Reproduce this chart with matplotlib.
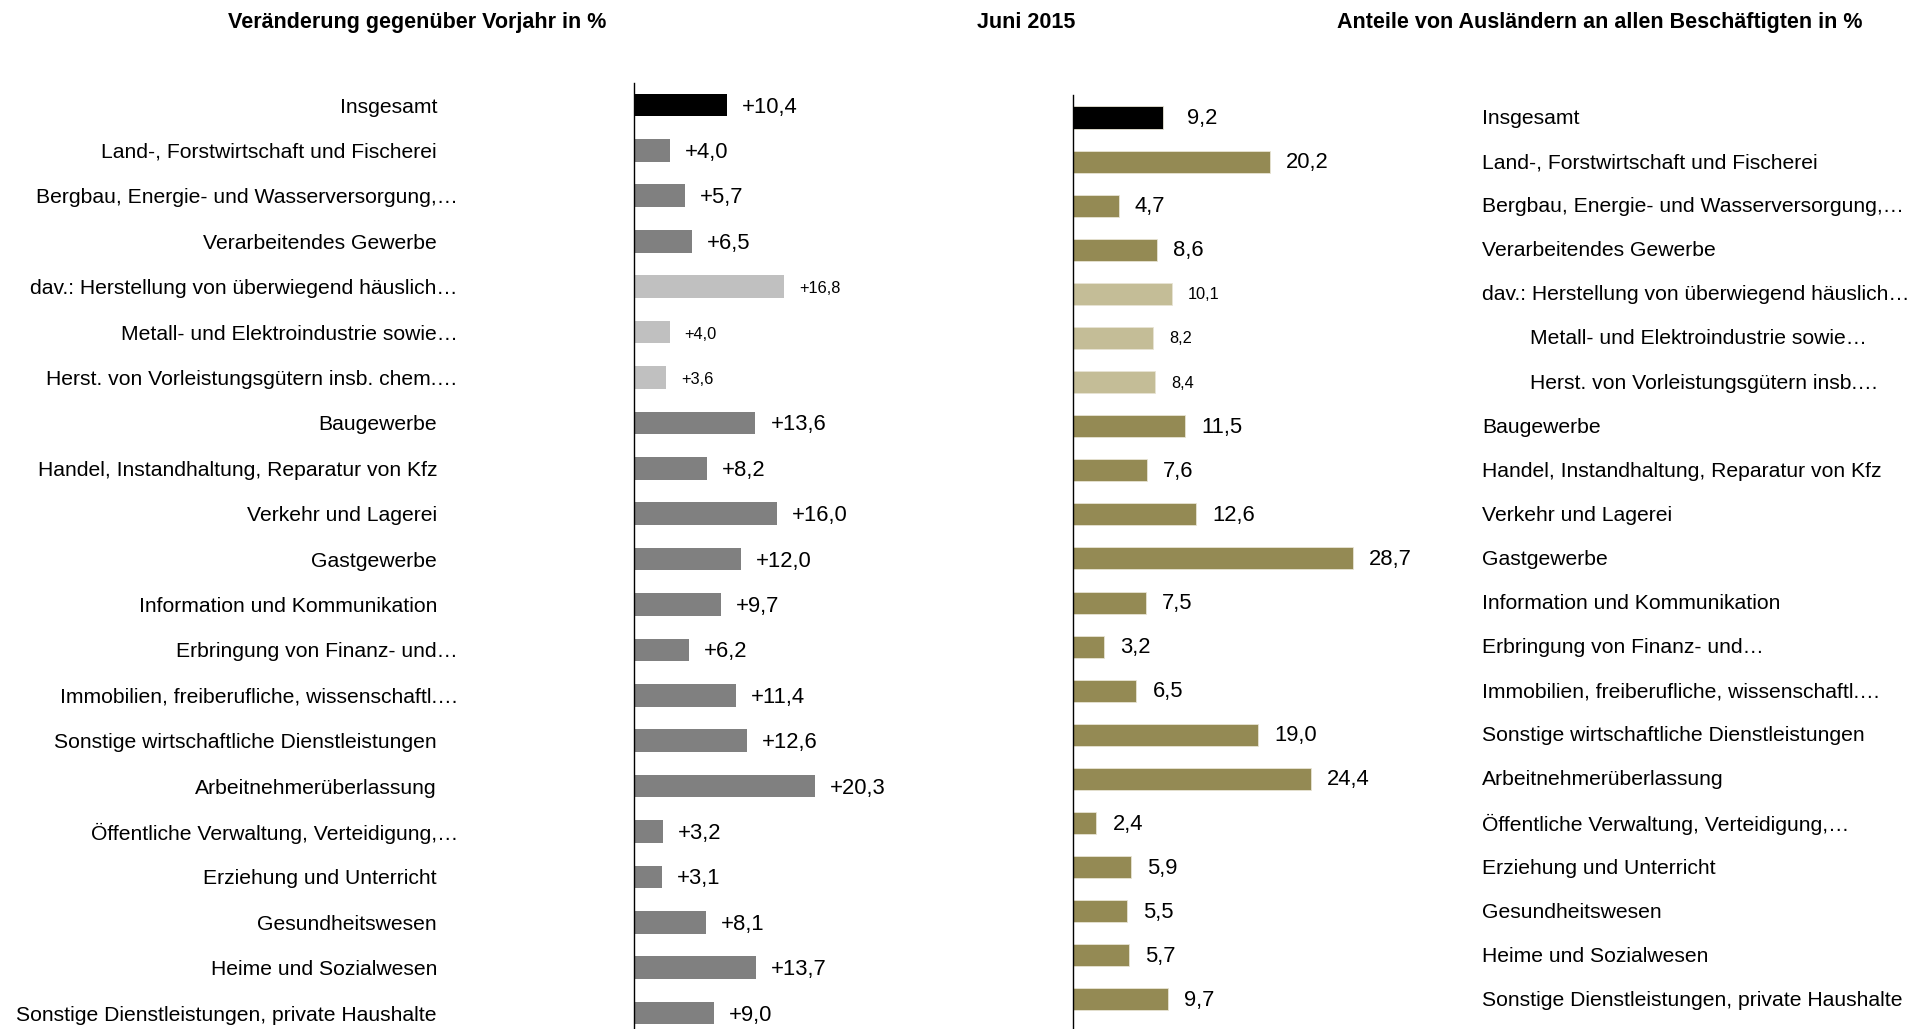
import matplotlib
matplotlib.use("Agg")
import matplotlib.pyplot as plt

plt.rcParams['font.family'] = ['Liberation Sans', 'DejaVu Sans']

left_labels = [
    "Insgesamt",
    "Land-, Forstwirtschaft und Fischerei",
    "Bergbau, Energie- und Wasserversorgung,…",
    "Verarbeitendes Gewerbe",
    "dav.: Herstellung von überwiegend häuslich…",
    "Metall- und Elektroindustrie sowie…",
    "Herst. von Vorleistungsgütern insb. chem.…",
    "Baugewerbe",
    "Handel, Instandhaltung, Reparatur von Kfz",
    "Verkehr und Lagerei",
    "Gastgewerbe",
    "Information und Kommunikation",
    "Erbringung von Finanz- und…",
    "Immobilien, freiberufliche, wissenschaftl.…",
    "Sonstige wirtschaftliche Dienstleistungen",
    "Arbeitnehmerüberlassung",
    "Öffentliche Verwaltung, Verteidigung,…",
    "Erziehung und Unterricht",
    "Gesundheitswesen",
    "Heime und Sozialwesen",
    "Sonstige Dienstleistungen, private Haushalte",
]
right_labels = [
    "Insgesamt",
    "Land-, Forstwirtschaft und Fischerei",
    "Bergbau, Energie- und Wasserversorgung,…",
    "Verarbeitendes Gewerbe",
    "dav.: Herstellung von überwiegend häuslich…",
    "Metall- und Elektroindustrie sowie…",
    "Herst. von Vorleistungsgütern insb.…",
    "Baugewerbe",
    "Handel, Instandhaltung, Reparatur von Kfz",
    "Verkehr und Lagerei",
    "Gastgewerbe",
    "Information und Kommunikation",
    "Erbringung von Finanz- und…",
    "Immobilien, freiberufliche, wissenschaftl.…",
    "Sonstige wirtschaftliche Dienstleistungen",
    "Arbeitnehmerüberlassung",
    "Öffentliche Verwaltung, Verteidigung,…",
    "Erziehung und Unterricht",
    "Gesundheitswesen",
    "Heime und Sozialwesen",
    "Sonstige Dienstleistungen, private Haushalte",
]
change_pct = [10.4, 4.0, 5.7, 6.5, 16.8, 4.0, 3.6, 13.6, 8.2, 16.0, 12.0, 9.7,
              6.2, 11.4, 12.6, 20.3, 3.2, 3.1, 8.1, 13.7, 9.0]
foreign_share = [9.2, 20.2, 4.7, 8.6, 10.1, 8.2, 8.4, 11.5, 7.6, 12.6, 28.7, 7.5,
                 3.2, 6.5, 19.0, 24.4, 2.4, 5.9, 5.5, 5.7, 9.7]
row_type = ["total", "main", "main", "main", "sub", "sub", "sub"] + ["main"] * 14

title_left = "Veränderung gegenüber Vorjahr in %"
title_mid = "Juni 2015"
title_right = "Anteile von Ausländern an allen Beschäftigten in %"

W, H = 1915, 1029
fig = plt.figure(figsize=(W / 100, H / 100), dpi=100)

left_colors = {"total": "#000000", "main": "#808080", "sub": "#C0C0C0"}
right_colors = {"total": "#000000", "main": "#948A54", "sub": "#C4BD97"}

def make_ax(x0, top, width, scale, ylim):
    ax = fig.add_axes([x0 / W, 0, width / W, (H - top) / H])
    ax.set_xlim(0, width / scale)
    ax.set_ylim(*ylim)
    for s in ["top", "right", "bottom"]:
        ax.spines[s].set_visible(False)
    ax.spines["left"].set_color("black")
    ax.spines["left"].set_linewidth(1.0)
    ax.set_xticks([])
    ax.set_yticks([])
    ax.patch.set_alpha(0)
    return ax

axL = make_ax(634, 83, 320, 8.93, (20.35, -0.485))
axR = make_ax(1073, 95, 320, 9.76, (20.67, -0.51))

n = len(change_pct)
ypos = list(range(n))

axL.barh(ypos, change_pct, height=0.5, color=[left_colors[t] for t in row_type])
axR.barh(ypos, foreign_share, height=0.5, color=[right_colors[t] for t in row_type],
         edgecolor="#E8E4D4", linewidth=0.6)

dyL, dyR = -2, -1
for i, (v, t) in enumerate(zip(change_pct, row_type)):
    fs = 11.8 if t == "sub" else 15.8
    axL.annotate(f"{v:+.1f}".replace(".", ","), xy=(v, i), xytext=(15, dyL),
                 textcoords="offset pixels", ha="left", va="center", fontsize=fs)
for i, (v, t) in enumerate(zip(foreign_share, row_type)):
    fs = 11.8 if t == "sub" else 15.8
    off = 24 if t == "total" else 16
    axR.annotate(f"{v:.1f}".replace(".", ","), xy=(v, i), xytext=(off, dyR),
                 textcoords="offset pixels", ha="left", va="center", fontsize=fs)

for i, lab in enumerate(left_labels):
    xr = 458 if lab.endswith("…") else 437
    axL.annotate(lab, xy=(xr, i), xycoords=("figure pixels", "data"),
                 xytext=(0, dyL), textcoords="offset pixels",
                 ha="right", va="center", fontsize=15.2)
for i, lab in enumerate(right_labels):
    xl = 1530 if i in (5, 6) else 1482
    axR.annotate(lab, xy=(xl, i), xycoords=("figure pixels", "data"),
                 xytext=(0, dyR), textcoords="offset pixels",
                 ha="left", va="center", fontsize=15.2, annotation_clip=False)

tfam = ['Liberation Sans', 'DejaVu Sans']
fig.text(417 / W, 1 - 22 / H, title_left, ha="center", va="center",
         fontsize=15.5, fontweight="bold", family=tfam)
fig.text(977 / W, 1 - 22 / H, title_mid, ha="left", va="center",
         fontsize=15.5, fontweight="bold", family=tfam)
fig.text(1600 / W, 1 - 22 / H, title_right, ha="center", va="center",
         fontsize=15.5, fontweight="bold", family=tfam)

fig.savefig("out.png", dpi=100)
